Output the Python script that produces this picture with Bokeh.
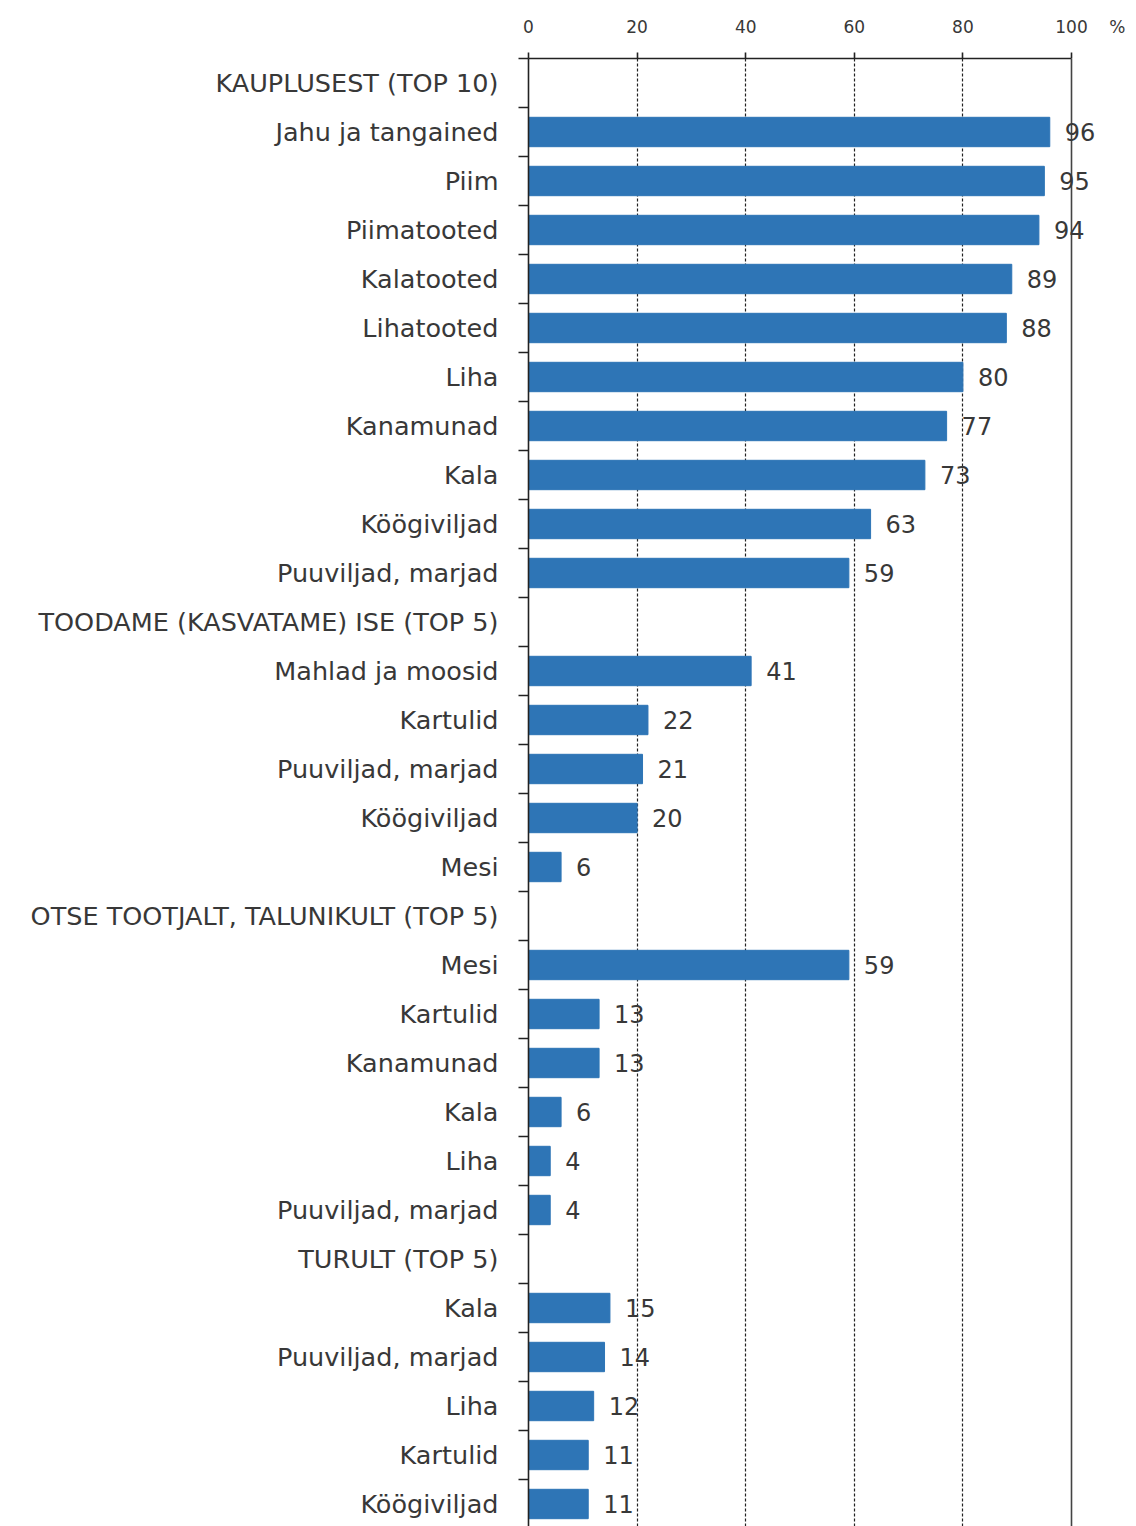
from bokeh.plotting import figure
from bokeh.models import ColumnDataSource, FixedTicker, LabelSet, Span, Range1d
from bokeh.core.properties import value
from bokeh.embed import file_html
from bokeh.resources import INLINE

categories = [
    "KAUPLUSEST (TOP 10)",
    "Jahu ja tangained", "Piim", "Piimatooted", "Kalatooted", "Lihatooted",
    "Liha", "Kanamunad", "Kala", "Köögiviljad", "Puuviljad, marjad",
    "TOODAME (KASVATAME) ISE (TOP 5)",
    "Mahlad ja moosid", "Kartulid", "Puuviljad, marjad", "Köögiviljad", "Mesi",
    "OTSE TOOTJALT, TALUNIKULT (TOP 5)",
    "Mesi", "Kartulid", "Kanamunad", "Kala", "Liha", "Puuviljad, marjad",
    "TURULT (TOP 5)",
    "Kala", "Puuviljad, marjad", "Liha", "Kartulid", "Köögiviljad",
]
values = [
    None,
    96, 95, 94, 89, 88, 80, 77, 73, 63, 59,
    None,
    41, 22, 21, 20, 6,
    None,
    59, 13, 13, 6, 4, 4,
    None,
    15, 14, 12, 11, 11,
]
x_ticks = [0, 20, 40, 60, 80, 100]
unit_label = "%"

FONT = "DejaVu Sans"
TXT = "#383838"
BAR = "#2E75B6"
NB = "\u00a0"

n = len(categories)
idx = list(range(n))
bar_y = [i for i, v in zip(idx, values) if v is not None]
bar_v = [v for v in values if v is not None]
bars = ColumnDataSource(dict(y=bar_y, v=bar_v, t=[str(v) for v in bar_v]))

W, H = 1136, 1526
LEFT, TOP = 528, 58
PX_PER_UNIT = (1071 - 528) / 100.0
ROW = 49.0
x_max = (W - LEFT) / PX_PER_UNIT
y_max = -0.5 + (H - TOP) / ROW

p = figure(width=W, height=H, x_range=Range1d(0, x_max),
           y_range=Range1d(y_max, -0.5), x_axis_location="above",
           output_backend="svg", toolbar_location=None,
           min_border_left=LEFT, min_border_right=0, min_border_top=TOP,
           min_border_bottom=0)
p.outline_line_color = None
p.background_fill_color = "white"

# grid
p.ygrid.grid_line_color = None
p.xgrid.ticker = FixedTicker(ticks=[20, 40, 60, 80])
p.xgrid.grid_line_color = "#222222"
p.xgrid.grid_line_dash = "3 2"
p.xgrid.grid_line_width = 1.2
p.add_layout(Span(location=100, dimension="height", line_color="#444444",
                  line_width=1.6))

# bars
p.hbar(y="y", left=0, right="v", height=0.6, source=bars,
       fill_color=BAR, line_color=BAR)

# top axis
xa = p.xaxis[0]
xa.ticker = FixedTicker(ticks=x_ticks, minor_ticks=[])
xa.bounds = (0, 100)
xa.axis_line_color = "#222222"
xa.axis_line_width = 1.6
xa.major_tick_line_color = "#222222"
xa.major_tick_line_width = 1.6
xa.major_tick_out = 6
xa.major_tick_in = 0
xa.minor_tick_line_color = None
xa.major_label_standoff = 16
xa.major_label_text_font = FONT
xa.major_label_text_font_size = "17px"
xa.major_label_text_color = TXT
xa.major_label_overrides = {100: NB * 7 + "100" + NB * 4 + unit_label}

# left axis with boundary ticks and category labels
ya = p.yaxis[0]
ya.ticker = FixedTicker(ticks=idx, minor_ticks=[i - 0.5 for i in range(n + 1)])
ya.axis_line_color = "#222222"
ya.axis_line_width = 1.6
ya.major_tick_line_color = None
ya.major_tick_out = 0
ya.major_tick_in = 0
ya.minor_tick_line_color = "#222222"
ya.minor_tick_line_width = 1.6
ya.minor_tick_out = 10
ya.minor_tick_in = 0
ya.major_label_standoff = 20
ya.major_label_text_font = FONT
ya.major_label_text_font_size = "25.5px"
ya.major_label_text_color = TXT
ya.major_label_overrides = {i: c for i, c in zip(idx, categories)}

# value labels
p.add_layout(LabelSet(x="v", y="y", text="t", source=bars, x_offset=15,
                      text_align="left", text_baseline="middle",
                      text_font=value(FONT), text_font_size="24px",
                      text_color=TXT))

open("out.html", "w").write(file_html(p, INLINE))
